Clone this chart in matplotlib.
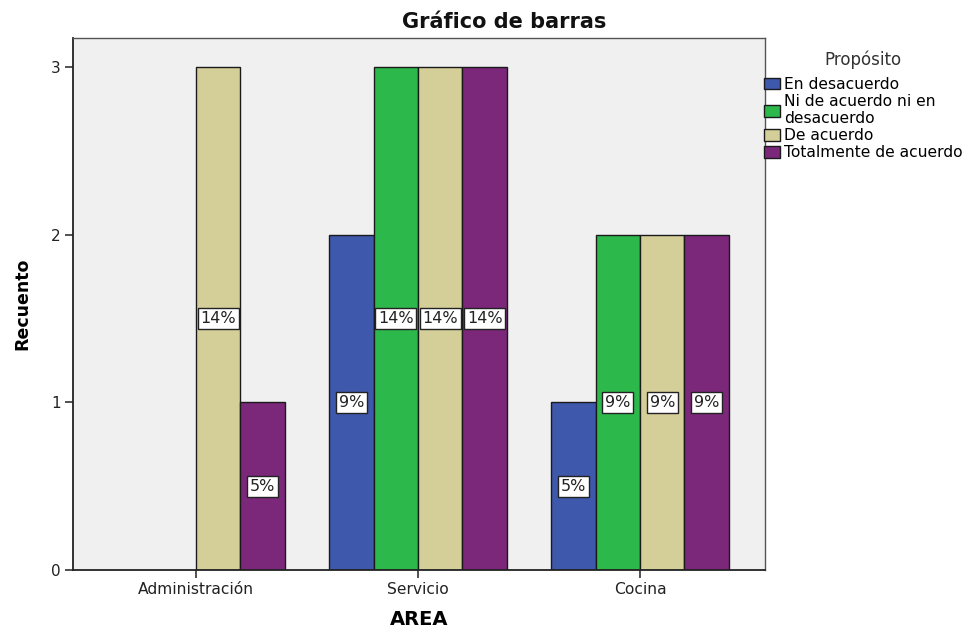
import matplotlib
matplotlib.use("Agg")
import matplotlib.pyplot as plt
from matplotlib.patches import Patch
import numpy as np

plt.rcParams['font.family'] = ['DejaVu Sans']

# Counts per area and answer
areas = ["Administración", "Servicio", "Cocina"]
series = ["En desacuerdo", "Ni de acuerdo ni en\ndesacuerdo", "De acuerdo", "Totalmente de acuerdo"]
en_desacuerdo = [0, 2, 1]
ni_ni = [0, 3, 2]
de_acuerdo = [3, 3, 2]
totalmente = [1, 3, 2]
colors = ["#3E58AC", "#2DB84C", "#D4CF98", "#7B287B"]

values = [en_desacuerdo, ni_ni, de_acuerdo, totalmente]
total = sum(sum(v) for v in values)

fig = plt.figure(figsize=(9.7, 6.3), dpi=100)
ax = fig.add_axes([73/970, 60/630, (765-73)/970, (570-38)/630])
ax.set_facecolor("#F0F0F0")

x = np.arange(len(areas))
width = 0.2
offsets = [-0.3, -0.1, 0.1, 0.3]

for vals, off, col in zip(values, offsets, colors):
    for xi, v in zip(x, vals):
        if v <= 0:
            continue
        ax.bar(xi + off, v, width=width, color=col, edgecolor="#1a1a1a",
               linewidth=1.0, zorder=2)
        pct = round(100 * v / total)
        ax.text(xi + off, v / 2, f"{pct}%", ha="center", va="center",
                fontsize=11.5, color="#222222", zorder=3,
                bbox=dict(boxstyle="square,pad=0.18", fc="white",
                          ec="#222222", lw=1.0))

ax.set_xlim(-0.554, 2.563)
ax.set_ylim(0, 3.173)
ax.set_xticks(x)
ax.set_xticklabels(areas, fontsize=11.2, color="#222222")
ax.set_yticks([0, 1, 2, 3])
ax.set_yticklabels(["0", "1", "2", "3"], fontsize=11, color="#222222")
ax.tick_params(axis="both", direction="out", length=6, width=1.2,
               color="#333333", pad=3)

for side in ["left", "bottom"]:
    ax.spines[side].set_color("#222222")
    ax.spines[side].set_linewidth(1.3)
for side in ["top", "right"]:
    ax.spines[side].set_color("#555555")
    ax.spines[side].set_linewidth(1.0)

ax.set_xlabel("AREA", fontsize=14, fontweight="bold", labelpad=9)
ax.set_ylabel("Recuento", fontsize=12.5, fontweight="bold", labelpad=14)

fig.text(504/970, 1 - 22/630, "Gráfico de barras", ha="center", va="center",
         fontsize=15, fontweight="bold", color="#111111")

handles = [Patch(facecolor=c, edgecolor="#1a1a1a", linewidth=1.0) for c in colors]
leg = fig.legend(handles, series, title="Propósito", loc="upper left",
                 bbox_to_anchor=(761/970, 1 - 47/630), frameon=False,
                 fontsize=11.2, title_fontsize=12, handlelength=1.05,
                 handleheight=0.8, handletextpad=0.22, labelspacing=0.13,
                 borderaxespad=0, borderpad=0.2)
leg.get_title().set_color("#333333")
leg._legend_box.sep = 6

fig.savefig("out.png", dpi=100, facecolor="white")
